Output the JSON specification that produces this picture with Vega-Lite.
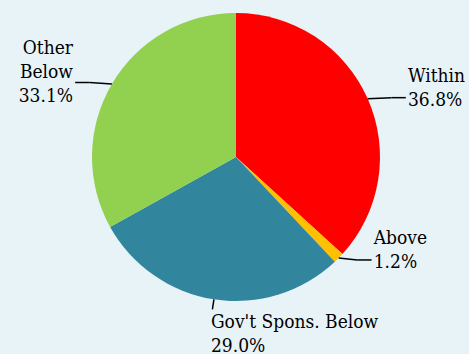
{
  "$schema": "https://vega.github.io/schema/vega-lite/v6.json",
  "width": 466,
  "height": 314,
  "autosize": "none",
  "padding": {"left": 3, "top": 0, "right": 0, "bottom": 40},
  "background": "#e8f3f8",
  "config": {"view": {"stroke": null}},
  "data": {
    "values": [
      {"category": "Within", "label": "Within", "share": 36.8, "order": 1},
      {"category": "Above", "label": "Above", "share": 1.2, "order": 2},
      {"category": "Gov't Spons. Below", "label": "Gov't Spons. Below", "share": 29.0, "order": 3},
      {"category": "Other Below", "label": "Other\nBelow", "share": 33.1, "order": 4}
    ]
  },
  "transform": [
    {"joinaggregate": [{"op": "sum", "field": "share", "as": "total"}]},
    {"window": [{"op": "sum", "field": "share", "as": "cum"}], "sort": [{"field": "order"}], "frame": [null, 0]},
    {"calculate": "(datum.cum - datum.share/2)/datum.total*2*PI", "as": "a"},
    {"calculate": "sin(datum.a)", "as": "sx"},
    {"calculate": "cos(datum.a)", "as": "sy"},
    {"calculate": "abs(datum.sx) < 0.35 ? 0 : (datum.sx > 0 ? 1 : -1)", "as": "side"},
    {"calculate": "datum.side == 0 ? 1.07*datum.sx : 1.18*datum.sx", "as": "ex"},
    {"calculate": "datum.side == 0 ? 1.07*datum.sy : 1.02*datum.sy", "as": "ey"},
    {"calculate": "datum.ex + datum.side*0.1", "as": "hx"},
    {"calculate": "datum.label + '\\n' + format(datum.share, '.1f') + '%'", "as": "text"},
    {"calculate": "length(split(datum.text, '\\n'))", "as": "nlines"},
    {"calculate": "datum.side == 0 ? datum.ex - 0.01 : datum.hx + datum.side*0.015", "as": "tx"},
    {"calculate": "datum.side == 0 ? datum.ey - 0.026 : datum.ey + 0.07 + (datum.nlines - 1)*0.0833", "as": "ty"}
  ],
  "layer": [
    {
      "mark": {"type": "arc", "outerRadius": 144},
      "encoding": {
        "theta": {"field": "share", "type": "quantitative", "stack": true},
        "order": {"field": "order", "type": "quantitative"},
        "color": {
          "field": "category",
          "type": "nominal",
          "scale": {
            "domain": ["Within", "Above", "Gov't Spons. Below", "Other Below"],
            "range": ["#ff0000", "#ffc000", "#31859c", "#92d050"]
          },
          "legend": null
        }
      }
    },
    {
      "mark": {"type": "rule", "stroke": "black", "strokeWidth": 1.5},
      "encoding": {
        "x": {"field": "sx", "type": "quantitative", "scale": {"domain": [-1.61806, 1.61806], "nice": false, "zero": false}, "axis": null},
        "y": {"field": "sy", "type": "quantitative", "scale": {"domain": [-1.09028, 1.09028], "nice": false, "zero": false}, "axis": null},
        "x2": {"field": "ex"},
        "y2": {"field": "ey"}
      }
    },
    {
      "mark": {"type": "rule", "stroke": "black", "strokeWidth": 1.5},
      "encoding": {
        "x": {"field": "ex", "type": "quantitative"},
        "y": {"field": "ey", "type": "quantitative"},
        "x2": {"field": "hx"},
        "y2": {"field": "ey"}
      }
    },
    {
      "transform": [{"filter": "datum.side == 1"}],
      "mark": {"type": "text", "align": "left", "baseline": "middle", "fontSize": 19, "lineHeight": 24, "lineBreak": "\n", "font": "'DejaVu Serif Condensed', 'DejaVu Serif'", "color": "black"},
      "encoding": {
        "x": {"field": "tx", "type": "quantitative"},
        "y": {"field": "ty", "type": "quantitative"},
        "text": {"field": "text"}
      }
    },
    {
      "transform": [{"filter": "datum.side == -1"}],
      "mark": {"type": "text", "align": "right", "baseline": "middle", "fontSize": 19, "lineHeight": 24, "lineBreak": "\n", "font": "'DejaVu Serif Condensed', 'DejaVu Serif'", "color": "black"},
      "encoding": {
        "x": {"field": "tx", "type": "quantitative"},
        "y": {"field": "ty", "type": "quantitative"},
        "text": {"field": "text"}
      }
    },
    {
      "transform": [{"filter": "datum.side == 0"}],
      "mark": {"type": "text", "align": "left", "baseline": "top", "fontSize": 19, "lineHeight": 24, "lineBreak": "\n", "font": "'DejaVu Serif Condensed', 'DejaVu Serif'", "color": "black"},
      "encoding": {
        "x": {"field": "tx", "type": "quantitative"},
        "y": {"field": "ty", "type": "quantitative"},
        "text": {"field": "text"}
      }
    }
  ]
}
